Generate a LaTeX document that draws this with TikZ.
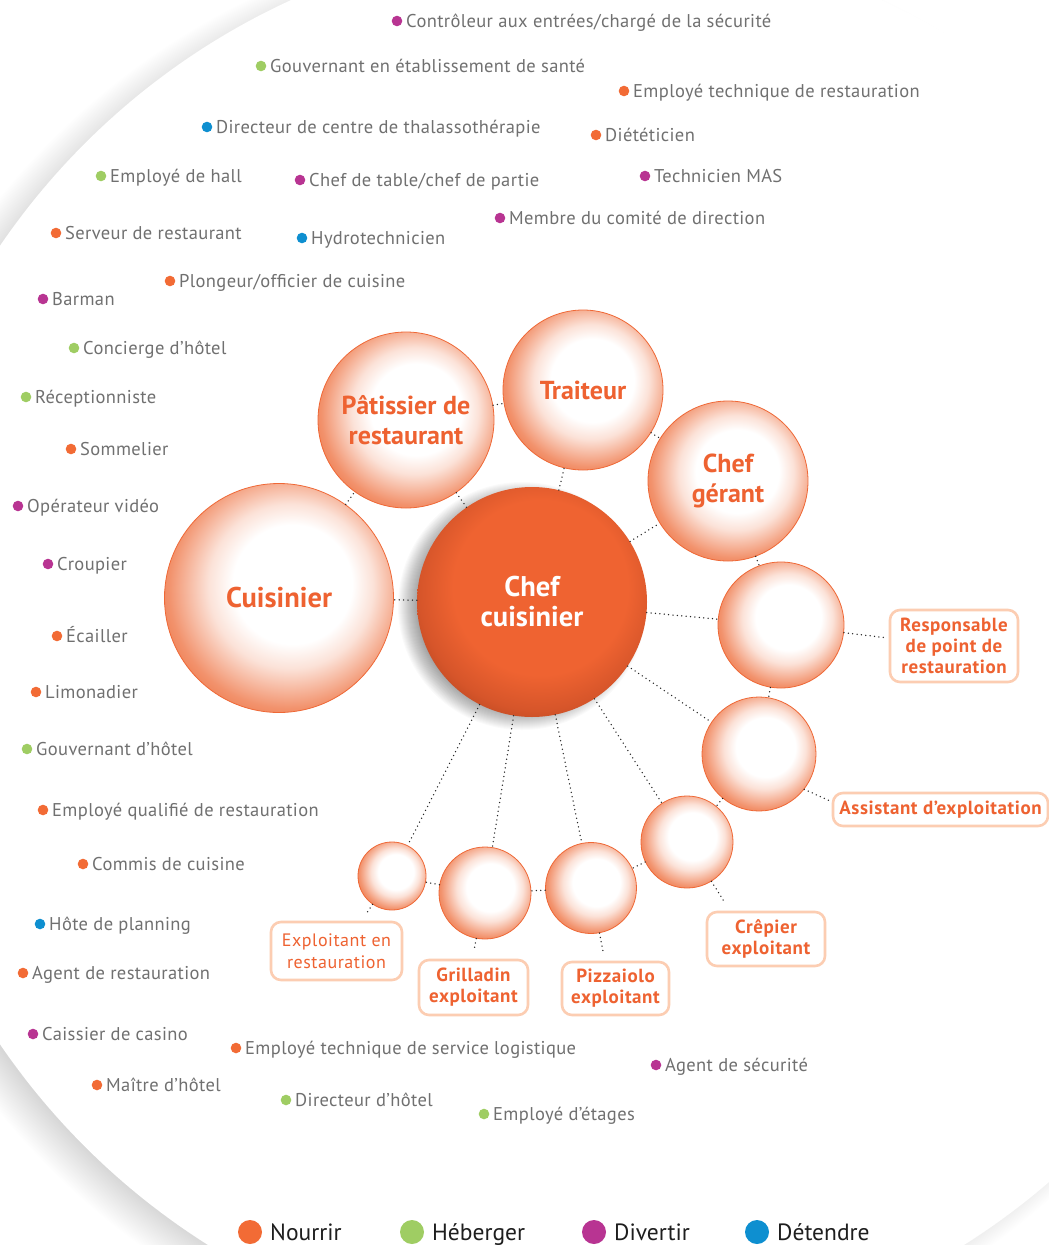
\documentclass[tikz,border=0pt]{standalone}
\usepackage{fontspec}
\setmainfont{PT Sans}

\definecolor{cNourrir}{HTML}{F26B35}
\definecolor{cHeberger}{HTML}{9FCD63}
\definecolor{cDivertir}{HTML}{B83492}
\definecolor{cDetendre}{HTML}{0E8FD0}
\definecolor{labelgray}{HTML}{707070}
\definecolor{bubtext}{HTML}{EE6231}
\definecolor{bubline}{HTML}{EF6836}
\definecolor{bubedge}{HTML}{EF7A4C}
\definecolor{boxline}{HTML}{FCCDB2}
\definecolor{mainor}{HTML}{EF6331}
\definecolor{maindark}{HTML}{D6552A}
\definecolor{maindarker}{HTML}{B4451F}
\definecolor{legendtext}{HTML}{1E1E1E}

% pale bubble: white core shifted up-right, orange rim (25bp = rim)
\pgfdeclareradialshading{bubbleshade}{\pgfpoint{4bp}{4bp}}{%
  color(0bp)=(white); color(13bp)=(white); color(18bp)=(bubedge!22);
  color(22bp)=(bubedge!52); color(26bp)=(bubedge!82); color(30bp)=(bubedge);
  color(50bp)=(bubedge)}
% central bubble: flat orange, darker rim at lower left
\pgfdeclareradialshading{mainshade}{\pgfpoint{3bp}{5bp}}{%
  color(0bp)=(mainor); color(19bp)=(mainor); color(26bp)=(maindark);
  color(31bp)=(maindarker); color(50bp)=(maindarker)}

\begin{document}
\begin{tikzpicture}[x=1pt,y=-1pt,
  role/.style={anchor=base west, inner sep=0pt, text=labelgray,
    font=\addfontfeatures{LetterSpace=2}\fontsize{18.5}{20}\selectfont},
  bubble/.style={circle, inner sep=0pt, shading=bubbleshade, draw=bubline,
    line width=0.8pt, text=bubtext, align=center,
    font=\bfseries\fontsize{26}{30}\selectfont},
  mainbubble/.style={circle, inner sep=0pt, shading=mainshade, text=white,
    align=center, font=\bfseries\fontsize{28.5}{30}\selectfont},
  tag/.style={draw=boxline, line width=2.6pt, fill=white, rounded corners=10pt,
    inner sep=0pt, text=bubtext, align=center,
    font=\bfseries\addfontfeatures{LetterSpace=3}\fontsize{19}{21}\selectfont},
  conn/.style={draw=black!85, line width=1.5pt, line cap=round,
    dash pattern=on 0pt off 4.4pt},
  keytext/.style={anchor=base west, inner sep=0pt, text=legendtext,
    font=\fontsize{23.5}{25}\selectfont}]

\useasboundingbox (0,0) rectangle (1049,1245);
\clip (0,0) rectangle (1049,1245);

% large backdrop disc with a soft shadow on its left
\foreach \k in {0,...,39}
  \fill[black, opacity=0.0028] (566,655) circle ({689+\k});
\fill[white] (586,645) circle (709);

% ---- job titles around the diagram ----
\newcommand{\jobtitle}[5]{%
  \node[role] (#1) at (#2+9,#3+6) {#5};
  \fill[#4] (#2,#3) circle (5.3);}

\jobtitle{j01}{397}{21}{cDivertir}{Contrôleur aux entrées/chargé de la sécurité}
\jobtitle{j02}{261}{66}{cHeberger}{Gouvernant en établissement de santé}
\jobtitle{j03}{624}{91}{cNourrir}{Employé technique de restauration}
\jobtitle{j04}{207}{127}{cDetendre}{Directeur de centre de thalassothérapie}
\jobtitle{j05}{596}{135}{cNourrir}{Diététicien}
\jobtitle{j06}{101}{176}{cHeberger}{Employé de hall}
\jobtitle{j07}{300}{180}{cDivertir}{Chef de table/chef de partie}
\jobtitle{j08}{645}{176}{cDivertir}{Technicien MAS}
\jobtitle{j09}{500}{218}{cDivertir}{Membre du comité de direction}
\jobtitle{j10}{56}{233}{cNourrir}{Serveur de restaurant}
\jobtitle{j11}{302}{238}{cDetendre}{Hydrotechnicien}
\jobtitle{j12}{170}{281}{cNourrir}{Plongeur/officier de cuisine}
\jobtitle{j13}{43}{299}{cDivertir}{Barman}
\jobtitle{j14}{74}{348}{cHeberger}{Concierge d’hôtel}
\jobtitle{j15}{26}{397}{cHeberger}{Réceptionniste}
\jobtitle{j16}{71}{449}{cNourrir}{Sommelier}
\jobtitle{j17}{18}{506}{cDivertir}{Opérateur vidéo}
\jobtitle{j18}{48}{564}{cDivertir}{Croupier}
\jobtitle{j19}{57}{636}{cNourrir}{Écailler}
\jobtitle{j20}{36}{692}{cNourrir}{Limonadier}
\jobtitle{j21}{27}{749}{cHeberger}{Gouvernant d’hôtel}
\jobtitle{j22}{43}{810}{cNourrir}{Employé qualifié de restauration}
\jobtitle{j23}{83}{864}{cNourrir}{Commis de cuisine}
\jobtitle{j24}{40}{924}{cDetendre}{Hôte de planning}
\jobtitle{j25}{23}{973}{cNourrir}{Agent de restauration}
\jobtitle{j26}{33}{1034}{cDivertir}{Caissier de casino}
\jobtitle{j27}{236}{1048}{cNourrir}{Employé technique de service logistique}
\jobtitle{j28}{656}{1065}{cDivertir}{Agent de sécurité}
\jobtitle{j29}{97}{1085}{cNourrir}{Maître d’hôtel}
\jobtitle{j30}{286}{1100}{cHeberger}{Directeur d’hôtel}
\jobtitle{j31}{484}{1114}{cHeberger}{Employé d’étages}

% ---- bubbles ----
\node[bubble, minimum size=229pt, font=\bfseries\fontsize{28.5}{30}\selectfont]
  (cuis) at (279,598) {Cuisinier};
\node[bubble, minimum size=176pt] (pat)    at (406,420) {Pâtissier de\\restaurant};
\node[bubble, minimum size=160pt] (trait)  at (583,390) {Traiteur};
\node[bubble, minimum size=160pt] (gerant) at (728,481) {Chef\\gérant};
\node[bubble, minimum size=126pt] (resp)   at (781,625) {};
\node[bubble, minimum size=114pt] (asst)   at (759,754) {};
\node[bubble, minimum size=92pt]  (crep)   at (687,842) {};
\node[bubble, minimum size=91pt]  (pizz)   at (591,888) {};
\node[bubble, minimum size=92pt]  (grill)  at (485,893) {};
\node[bubble, minimum size=68pt]  (expl)   at (392,876) {};

% soft shadow under the central bubble, falling to the lower left
\foreach \k in {0,...,19}
  \fill[black, opacity=0.02] (522,606) circle ({105+\k});
\node[mainbubble, minimum size=230pt] (chef) at (532,602) {Chef\\cuisinier};

% ---- tags ----
\node[tag, minimum width=128pt, minimum height=72pt] (tResp) at (954,646)
  {Responsable\\de point de\\restauration};
\node[tag, minimum width=215pt, minimum height=33pt] (tAsst) at (940.5,809.5)
  {Assistant d’exploitation};
\node[tag, minimum width=118pt, minimum height=54pt] (tCrep) at (766,939)
  {Crêpier\\exploitant};
\node[tag, minimum width=107pt, minimum height=53pt] (tPizz) at (615.5,988.5)
  {Pizzaiolo\\exploitant};
\node[tag, minimum width=109pt, minimum height=55pt] (tGrill) at (473.5,987.5)
  {Grilladin\\exploitant};
\node[tag, minimum width=131pt, minimum height=58pt,
  font=\addfontfeatures{LetterSpace=3}\fontsize{18}{22}\selectfont]
  (tExpl) at (336.5,951) {Exploitant en\\restauration};

% ---- dotted links ----
\foreach \b in {cuis,pat,trait,gerant,resp,asst,crep,pizz,grill,expl}
  \draw[conn] (chef) -- (\b);
\draw[conn] (cuis) -- (pat);
\draw[conn] (pat) -- (trait);
\draw[conn] (trait) -- (gerant);
\draw[conn] (gerant) -- (resp);
\draw[conn] (resp) -- (asst);
\draw[conn] (asst) -- (crep);
\draw[conn] (crep) -- (pizz);
\draw[conn] (pizz) -- (grill);
\draw[conn] (grill) -- (expl);

\coordinate (aEnd) at (830,801);
\coordinate (cEnd) at (725,903);
\coordinate (pEnd) at (603,951);
\coordinate (gEnd) at (474,950);
\coordinate (eEnd) at (366,914);
\draw[conn, shorten >=5pt] (resp) -- (tResp);
\draw[conn] (asst.-38) -- (aEnd);
\draw[conn] (crep) -- (cEnd);
\draw[conn] (pizz) -- (pEnd);
\draw[conn] (grill) -- (gEnd);
\draw[conn] (expl) -- (eEnd);

% ---- legend ----
\foreach \x/\c/\t/\n in {250/cNourrir/Nourrir/kN, 412/cHeberger/Héberger/kH,
    594/cDivertir/Divertir/kD, 757/cDetendre/Détendre/kT} {
  \fill[\c] (\x,1232) circle (12);
  \node[keytext] (\n) at (\x+20,1240.5) {\t};
}
\end{tikzpicture}
\end{document}
